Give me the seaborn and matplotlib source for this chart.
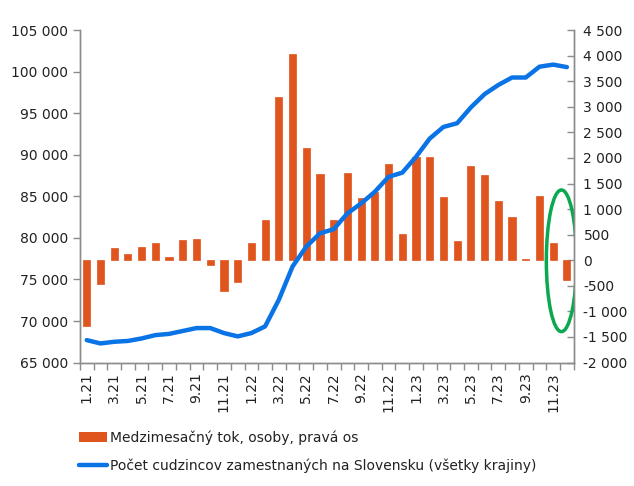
import numpy as np
import pandas as pd
import matplotlib
matplotlib.use("Agg")
import matplotlib.pyplot as plt
from matplotlib.patches import Ellipse, Patch
from matplotlib.lines import Line2D
from matplotlib.ticker import FuncFormatter, FixedLocator
import seaborn as sns

# months 1.21 .. 12.23
months = [f"{m}.{y}" for y in (21, 22, 23) for m in range(1, 13)]

# monthly flow (persons, right axis)
flow = [-1280, -460, 235, 125, 260, 345, 65, 400, 420, -85, -610, -420,
        345, 780, 3200, 4030, 2190, 1685, 780, 1705, 1225, 1330, 1875, 510,
        2025, 2025, 1245, 385, 1835, 1665, 1160, 845, 25, 1260, 340, -380]

# number of foreigners employed in Slovakia (left axis)
count = [67700, 67300, 67500, 67600, 67900, 68300, 68450, 68800, 69150, 69150, 68550, 68150,
         68550, 69350, 72550, 76550, 78950, 80550, 81050, 82950, 84150, 85550, 87350, 87850,
         89750, 91950, 93350, 93800, 95700, 97300, 98400, 99300, 99300, 100600, 100850, 100550]

df = pd.DataFrame({"month": months, "idx": np.arange(len(months)), "flow": flow, "count": count})

sns.set_style("white")
plt.rcParams["font.family"] = ["DejaVu Sans"]

bar_color = "#E0541E"
line_color = "#0A74E6"
axis_color = "#8c8c8c"
text_color = "#222222"

fig = plt.figure(figsize=(6.34, 4.86), dpi=100)
ax = fig.add_axes([0.126, 0.254, 0.779, 0.684])
ax2 = ax.twinx()

sns.barplot(data=df, x="idx", y="flow", ax=ax2, color=bar_color, width=0.52,
            native_scale=True, saturation=1, edgecolor=bar_color, linewidth=0.5)
sns.lineplot(data=df, x="idx", y="count", ax=ax, color=line_color, linewidth=3.2)

# line on top of bars
ax.set_zorder(ax2.get_zorder() + 1)
ax.patch.set_visible(False)

ax.set_xlim(-0.5, len(months) - 0.5)
ax.set_ylim(65000, 105000)
ax.set_yticks(np.arange(65000, 105001, 5000))
ax2.set_ylim(-2000, 4500)
ax2.set_yticks(np.arange(-2000, 4501, 500))

fmt = FuncFormatter(lambda v, p: f"{int(v):,}".replace(",", " "))
ax.yaxis.set_major_formatter(fmt)
ax2.yaxis.set_major_formatter(fmt)

ax.xaxis.set_major_locator(FixedLocator(list(range(0, len(months), 2))))
ax.set_xticklabels(months[::2], rotation=90)
ax.xaxis.set_minor_locator(FixedLocator(list(np.arange(-0.5, len(months), 1.0))))
ax.tick_params(axis="x", which="major", length=0, pad=7, labelsize=10, labelcolor=text_color)
ax.tick_params(axis="x", which="minor", length=5, width=1, color=axis_color, direction="out", bottom=True)
ax.tick_params(axis="y", length=5, width=1, color=axis_color, direction="out", left=True,
               labelsize=10, labelcolor=text_color)
ax2.tick_params(axis="y", length=5, width=1, color=axis_color, direction="in", right=True,
                labelsize=10, labelcolor=text_color, pad=7)
ax.set_xlabel("")
ax.set_ylabel("")
ax2.set_xlabel("")
ax2.set_ylabel("")

for a in (ax, ax2):
    a.spines["top"].set_visible(False)
    for s in ("left", "right", "bottom"):
        a.spines[s].set_color(axis_color)
        a.spines[s].set_linewidth(1)

# green highlight around the last months
ax2.add_patch(Ellipse((34.6, -10), width=2.2, height=2770, fill=False,
                      edgecolor="#0AA84F", linewidth=2.5, zorder=5))

handles = [Patch(facecolor=bar_color, edgecolor="none"),
           Line2D([0], [0], color=line_color, linewidth=3.2)]
labels = ["Medzimesačný tok, osoby, pravá os",
          "Počet cudzincov zamestnaných na Slovensku (všetky krajiny)"]
fig.legend(handles, labels, loc="upper left", bbox_to_anchor=(0.105, 0.14),
           frameon=False, fontsize=10, handlelength=2.0, handletextpad=0.25,
           labelspacing=1.0, labelcolor=text_color)

fig.savefig("out.png", dpi=100)
